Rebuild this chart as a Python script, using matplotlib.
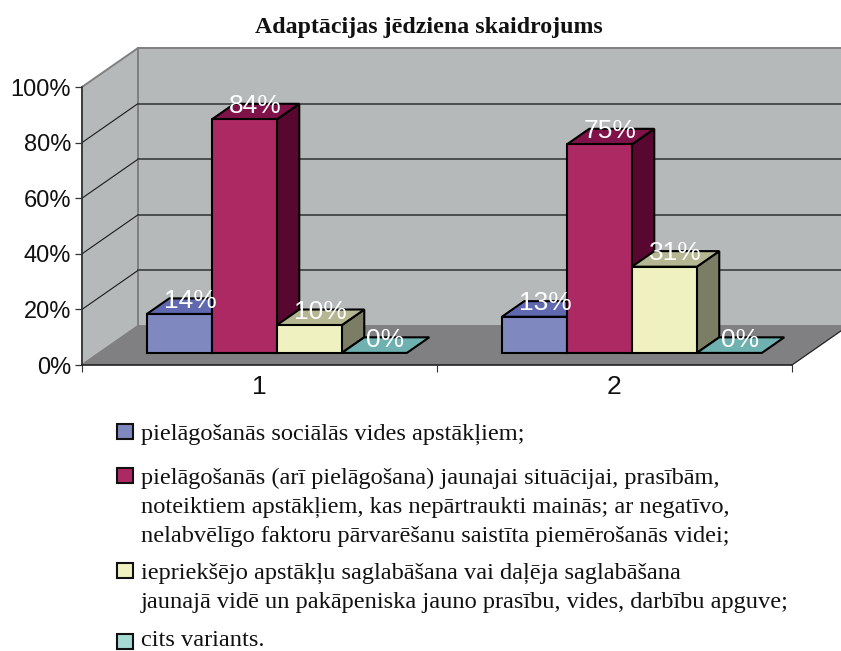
import matplotlib
matplotlib.use("Agg")
import matplotlib.pyplot as plt
from matplotlib.patches import Polygon, Rectangle

# values
categories = ['1', '2']
vals_a = [14, 13]
vals_b = [84, 75]
vals_c = [10, 31]
vals_d = [0, 0]
ytick_vals = [0, 20, 40, 60, 80, 100]
title = 'Adaptācijas jēdziena skaidrojums'
legend_texts = [
    'pielāgošanās sociālās vides apstākļiem;',
    'pielāgošanās (arī pielāgošana) jaunajai situācijai, prasībām,\n'
    'noteiktiem apstākļiem, kas nepārtraukti mainās; ar negatīvo,\n'
    'nelabvēlīgo faktoru pārvarēšanu saistīta piemērošanās videi;',
    'iepriekšējo apstākļu saglabāšana vai daļēja saglabāšana\n'
    'jaunajā vidē un pakāpeniska jauno prasību, vides, darbību apguve;',
    'cits variants.',
]

# front, top, side colours per series
colors = [('#8088c0', '#6068b0', '#4a4f8c'),
          ('#ad2964', '#7f1248', '#580830'),
          ('#eff2c0', '#b5b792', '#7b7e65'),
          ('#a6dad4', '#6fb0b0', '#4f8a8a')]

W, H = 841.0, 651.0
DX = 56.0 / 355   # full depth in x units
DY = 39.0 / 2.78  # full depth in y units
BAR_W = 65.0 / 355
D0, D1 = 0.31, 0.71  # bar depth range


def pt(x, y, d):
    return (x + d * DX, y + d * DY)


fig = plt.figure(figsize=(W / 100, H / 100), dpi=100)
ax = fig.add_axes([82 / W, (H - 365) / H, 710 / W, 278 / H])
ax.set_xlim(0, len(categories))
ax.set_ylim(0, 100)
ax.patch.set_visible(False)

# walls and floor
xmax = len(categories)
ax.add_patch(Polygon([pt(0, 0, 1), pt(xmax, 0, 1), pt(xmax, 100, 1), pt(0, 100, 1)],
                     fc='#b6b9ba', ec='#808080', lw=1.4, clip_on=False, zorder=1))
ax.add_patch(Polygon([pt(0, 0, 0), pt(0, 0, 1), pt(0, 100, 1), pt(0, 100, 0)],
                     fc='#b6b9ba', ec='#808080', lw=1.4, clip_on=False, zorder=1))
ax.add_patch(Polygon([pt(0, 0, 0), pt(xmax, 0, 0), pt(xmax, 0, 1), pt(0, 0, 1)],
                     fc='#808082', ec='none', clip_on=False, zorder=1))
ax.plot(*zip(pt(xmax, 0, 0), pt(xmax, 0, 1)), color='#222222', lw=0.9, clip_on=False, zorder=2)
ax.plot(*zip(pt(0, 0, 0), pt(0, 0, 1)), color='#808080', lw=1.0, clip_on=False, zorder=2)

for v in ytick_vals[1:-1]:
    ax.plot(*zip(pt(0, v, 0), pt(0, v, 1)), color='#1a1a1a', lw=0.8, clip_on=False, zorder=2)
    ax.plot(*zip(pt(0, v, 1), pt(xmax, v, 1)), color='#3a3d3e', lw=1.2, clip_on=False, zorder=2)

# bars, left to right so each front covers the side of the one before
series = [vals_a, vals_b, vals_c, vals_d]
z = 3
for c in range(len(categories)):
    start = c + (1 - 4 * BAR_W) / 2
    for s, vals in enumerate(series):
        x0 = start + s * BAR_W
        x1 = x0 + BAR_W
        v = vals[c]
        front, top, side = colors[s]
        style = dict(ec='black', lw=1.5, joinstyle='miter', clip_on=False, zorder=z)
        if v > 0:
            ax.add_patch(Polygon([pt(x1, 0, D0), pt(x1, 0, D1), pt(x1, v, D1), pt(x1, v, D0)],
                                 fc=side, **style))
        ax.add_patch(Polygon([pt(x0, v, D0), pt(x1, v, D0), pt(x1, v, D1), pt(x0, v, D1)],
                             fc=top, **style))
        if v > 0:
            ax.add_patch(Polygon([pt(x0, 0, D0), pt(x1, 0, D0), pt(x1, v, D0), pt(x0, v, D0)],
                                 fc=front, **style))
        z += 1

# labels on top of the rest
for c in range(len(categories)):
    start = c + (1 - 4 * BAR_W) / 2
    for s, vals in enumerate(series):
        cx, cy = pt(start + (s + 0.5) * BAR_W, vals[c], (D0 + D1) / 2)
        ax.annotate('%d%%' % vals[c], (cx, cy), xytext=(0, 4), textcoords='offset points',
                    ha='center', va='center', color='white', fontsize=19,
                    family='Liberation Sans', zorder=50, annotation_clip=False)

# axes
for side in ['top', 'right']:
    ax.spines[side].set_visible(False)
ax.spines['left'].set_color('#333333')
ax.spines['bottom'].set_color('#222222')
ax.spines['left'].set_linewidth(1.2)
ax.spines['bottom'].set_linewidth(1.2)
ax.set_yticks(ytick_vals)
ax.set_yticklabels(['%d%%' % v for v in ytick_vals], fontsize=17, family='Liberation Sans',
                   color='#111111')
ax.set_xticks(range(xmax + 1))
ax.set_xticklabels([])
ax.set_xticks([i + 0.5 for i in range(xmax)], minor=True)
ax.set_xticklabels(categories, minor=True, fontsize=19, family='Liberation Sans', color='#111111')
ax.tick_params(axis='x', which='major', length=5, width=0.8, color='#333333')
ax.tick_params(axis='x', which='minor', length=0, pad=7)
ax.tick_params(axis='y', length=5, width=0.9, color='#333333', pad=3)

fig.text(429 / W, (H - 27) / H, title, ha='center', va='center', fontsize=17.2,
         fontweight='bold', family='Liberation Serif', color='#111111')

# legend
swatch_tops = [424, 467.5, 563, 633.5]
last_baselines = [440, 542, 608, 646.5]  # baseline of the last line in each entry
for i, txt in enumerate(legend_texts):
    fig.add_artist(Rectangle((117 / W, (H - swatch_tops[i] - 15) / H), 16 / W, 15 / H,
                             transform=fig.transFigure, fc=colors[i][0], ec='#111111', lw=1.5))
    fig.text(141 / W, (H - last_baselines[i]) / H, txt, ha='left', va='baseline', fontsize=17.6,
             family='Liberation Serif', color='#111111', linespacing=1.49)

fig.savefig('out.png', dpi=100)
